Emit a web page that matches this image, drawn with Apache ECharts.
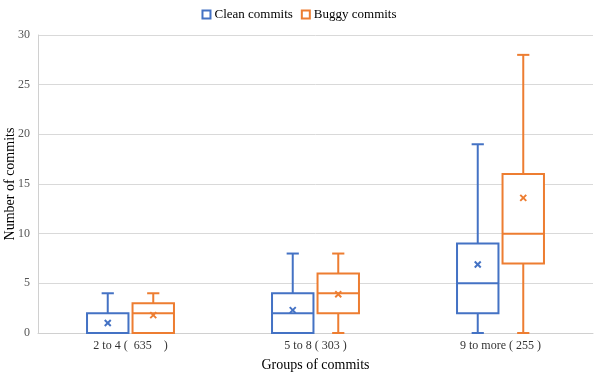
<!DOCTYPE html>
<html><head><meta charset="utf-8">
<script src="https://cdn.jsdelivr.net/npm/echarts@6/dist/echarts.min.js"></script>
<style>html,body{margin:0;padding:0;background:#fff}#c{width:598px;height:372px}</style>
</head><body><div id="c"></div>
<script>
const categories = ['2 to 4 (  635    )', '5 to 8 ( 303 )', '9 to more ( 255 )'];
const seriesNames = ['Clean commits', 'Buggy commits'];
// each row: [min, Q1, median, Q3, max, mean]
const cleanStats = [[0, 0, 0, 2, 4, 1.0], [0, 0, 2, 4, 8, 2.3], [0, 2, 5, 9, 19, 6.9]];
const buggyStats = [[0, 0, 2, 3, 4, 1.8], [0, 2, 4, 6, 8, 3.9], [0, 7, 10, 16, 28, 13.6]];
const yMin = 0, yMax = 30, yStep = 5;

const COLORS = ['#4472C4', '#ED7D31'];
const BOX_FRAC = 0.224, OFFSET_FRAC = 0.123, CAP_FRAC = 0.066;
const FONT = '"Liberation Serif", "Times New Roman", serif';

function makeRender(offsetFrac, color) {
  return function (params, api) {
    const c = api.value(0);
    const band = api.size([1, 0])[0];
    const x = api.coord([c, 0])[0] + offsetFrac * band;
    const hw = BOX_FRAC * band / 2;
    const cw = CAP_FRAC * band / 2;
    const y = i => api.coord([c, api.value(i)])[1];
    const y0 = y(1), y1 = y(2), y2 = y(3), y3 = y(4), y4 = y(5), ym = y(6);
    const st = { stroke: color, lineWidth: 2, fill: null };
    const line = (x1, ya, x2, yb) => ({ type: 'line', shape: { x1: x1, y1: ya, x2: x2, y2: yb }, style: st });
    const m = 3;
    return {
      type: 'group', children: [
        line(x, y3, x, y4), line(x - cw, y4, x + cw, y4),
        line(x, y1, x, y0), line(x - cw, y0, x + cw, y0),
        { type: 'rect', shape: { x: x - hw, y: y3, width: 2 * hw, height: y1 - y3 }, style: { stroke: color, lineWidth: 2, fill: '#fff' } },
        line(x - hw, y2, x + hw, y2),
        line(x - m, ym - m, x + m, ym + m), line(x - m, ym + m, x + m, ym - m)
      ]
    };
  };
}

function toData(stats) {
  return stats.map((s, i) => [i].concat(s));
}

const chart = echarts.init(document.getElementById('c'), null, { renderer: 'canvas' });
chart.setOption({
  animation: false,
  backgroundColor: '#fff',
  textStyle: { fontFamily: FONT },
  legend: {
    top: 3, left: 'center',
    itemWidth: 8, itemHeight: 8, itemGap: 8,
    textStyle: { fontFamily: FONT, fontSize: 13, color: '#000', padding: [0, 0, 0, -1] },
    data: seriesNames.map((n, i) => ({ name: n, icon: 'rect', itemStyle: { color: '#fff', borderColor: COLORS[i], borderWidth: 2 } }))
  },
  grid: { left: 38, right: 5, top: 35, bottom: 39, containLabel: false, outerBoundsMode: 'none' },
  xAxis: {
    type: 'category', data: categories,
    name: 'Groups of commits', nameLocation: 'middle', nameGap: 25,
    nameTextStyle: { fontFamily: FONT, fontSize: 14, color: '#000' },
    axisLine: { lineStyle: { color: '#d0d0d0', width: 1 } },
    axisTick: { show: false },
    axisLabel: { fontFamily: FONT, fontSize: 12, color: '#333', margin: 7 },
    splitLine: { show: false }
  },
  yAxis: {
    type: 'value', min: yMin, max: yMax, interval: yStep,
    name: 'Number of commits', nameLocation: 'middle', nameGap: 21, nameMoveOverlap: false,
    nameTextStyle: { fontFamily: FONT, fontSize: 14, color: '#000' },
    axisLine: { show: true, lineStyle: { color: '#d0d0d0', width: 1 } },
    axisTick: { show: false },
    axisLabel: { fontFamily: FONT, fontSize: 12, color: '#555', margin: 8 },
    splitLine: { lineStyle: { color: '#d9d9d9', width: 1 } }
  },
  series: [
    { name: seriesNames[0], type: 'custom', renderItem: makeRender(-OFFSET_FRAC, COLORS[0]), itemStyle: { color: COLORS[0] },
      encode: { x: 0, y: [1, 2, 3, 4, 5, 6] }, data: toData(cleanStats), z: 3 },
    { name: seriesNames[1], type: 'custom', renderItem: makeRender(OFFSET_FRAC, COLORS[1]), itemStyle: { color: COLORS[1] },
      encode: { x: 0, y: [1, 2, 3, 4, 5, 6] }, data: toData(buggyStats), z: 3 }
  ]
});
</script></body></html>
